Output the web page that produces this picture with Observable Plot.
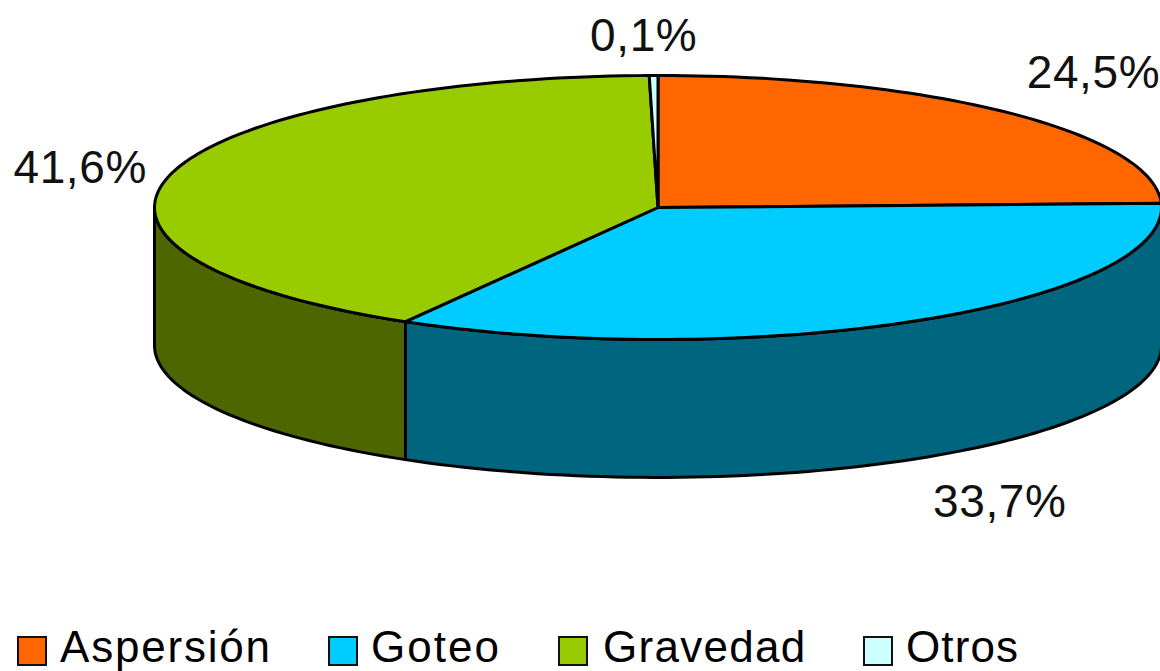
<!DOCTYPE html>
<html lang="es">
<head>
<meta charset="utf-8">
<script src="https://cdn.jsdelivr.net/npm/d3@7"></script>
<script src="https://cdn.jsdelivr.net/npm/@observablehq/plot@0.6"></script>
<style>
html,body{margin:0;padding:0;background:#fff;overflow:hidden}
#legend{display:flex;align-items:center;height:51px;padding-left:17px;font:44px "Liberation Sans",Arial,sans-serif;color:#000;line-height:45px;white-space:nowrap}
#legend .sw{display:inline-block;box-sizing:border-box;width:30px;height:30px;border:2.5px solid #111;margin-right:13px;position:relative;top:4px}
#legend .it{display:inline-block;position:relative;top:1px;flex:none;letter-spacing:1.8px}
#legend .it:nth-child(1){width:311px}
#legend .it:nth-child(2){width:230px;letter-spacing:2px}
#legend .it:nth-child(3){width:305px;letter-spacing:1.3px}
#legend .it:nth-child(3) .sw{margin-right:15px}
#legend .it:nth-child(4){letter-spacing:1.1px}
</style>
</head>
<body>
<div id="chart"></div>
<div id="legend"></div>
<script>
const categories = ["Aspersión", "Goteo", "Gravedad", "Otros"];
const shares = [24.5, 33.7, 41.6, 0.1];
const sweepDegrees = [88.2, 121.9, 148.9, 1.0];   // slice angles as measured on the picture
const topColors = ["#FF6600", "#00CCFF", "#99CC00", "#CCFFFF"];
const wallColors = ["#803300", "#006680", "#4D6600", "#668080"];
const labelNudges = [[15, -20], [32, 159], [7, 1], [-9, -13]];

const depth = 1.045;      // wall height, in units of the ellipse's vertical radius
const labelRadius = 1.2;

const rad = d => d * Math.PI / 180;
const rim = (deg, drop = 0) => ({x: Math.sin(rad(deg)), y: Math.cos(rad(deg)) - drop});
const arc = (a, b, drop = 0) => {
  const n = Math.max(2, Math.ceil(Math.abs(b - a) / 1.5));
  return d3.range(n + 1).map(i => rim(a + (b - a) * i / n, drop));
};

// cumulative slice angles, clockwise from 12 o'clock
let acc = 0;
const slices = categories.map((name, i) => {
  const start = acc;
  acc += sweepDegrees[i];
  const end = acc;
  return {name, i, start, end, mid: (start + end) / 2};
});

const topShape = s => [{x: 0, y: 0}, ...arc(s.start, s.end), {x: 0, y: 0}];
const wallShape = s => {
  const a = Math.max(s.start, 90), b = Math.min(s.end, 270);
  if (b <= a) return null;
  const front = arc(a, b), back = arc(b, a, depth);
  return [...front, ...back, front[0]];
};

const lineStyle = {stroke: "#000", strokeWidth: 3, strokeLinejoin: "round", strokeLinecap: "round"};
const marks = [];
for (const s of slices) {
  const wall = wallShape(s);
  if (wall) marks.push(Plot.line(wall, {x: "x", y: "y", fill: wallColors[s.i], curve: "linear", ...lineStyle}));
}
for (const s of slices) {
  marks.push(Plot.line(topShape(s), {x: "x", y: "y", fill: topColors[s.i], curve: "linear", ...lineStyle}));
}
slices.forEach(s => {
  const p = rim(s.mid);
  marks.push(Plot.text([s], {
    x: () => p.x * labelRadius,
    y: () => p.y * labelRadius,
    text: () => shares[s.i].toFixed(1).replace(".", ",") + "%",
    dx: labelNudges[s.i][0],
    dy: labelNudges[s.i][1],
    fontSize: 46,
    fill: "#111",
    textAnchor: "middle",
    lineAnchor: "middle"
  }));
});

const chart = Plot.plot({
  width: 1160,
  height: 620,
  margin: 0,
  style: {background: "#fff", fontFamily: '"Liberation Sans", Arial, sans-serif', letterSpacing: "0.6px"},
  x: {domain: [-1, 1], range: [154, 1161], axis: null},
  y: {domain: [1, -1], range: [75, 339], axis: null},
  marks
});
chart.style.display = "block";
chart.style.overflow = "hidden";
document.getElementById("chart").append(chart);

const legend = document.getElementById("legend");
categories.forEach((c, i) => {
  const it = document.createElement("span"); it.className = "it";
  const sw = document.createElement("span"); sw.className = "sw"; sw.style.background = topColors[i];
  it.append(sw, document.createTextNode(c));
  legend.append(it);
});
</script>
</body>
</html>
